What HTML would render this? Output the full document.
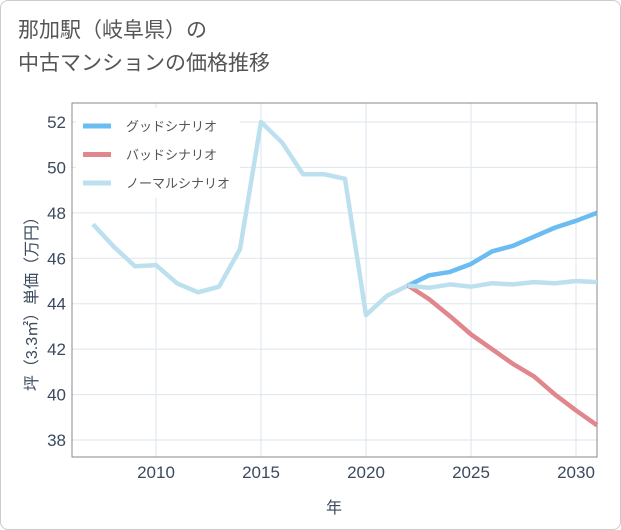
<!DOCTYPE html>
<html><head><meta charset="utf-8"><style>
body{margin:0;background:#fff;font-family:"Liberation Sans","Noto Sans CJK JP",sans-serif}
#card{position:absolute;left:0;top:0;width:619px;height:528px;border:1px solid #ccc;border-radius:8px;background:#fff}
#title{position:absolute;left:18px;top:14px;font-size:21px;color:#555;line-height:33px}
</style></head><body>
<div id="card"></div>
<div id="title">那加駅（岐阜県）の<br>中古マンションの価格推移</div>
<svg id="chart" width="621" height="530" style="position:absolute;left:0;top:0"></svg>
<script>
const years=[2007,2008,2009,2010,2011,2012,2013,2014,2015,2016,2017,2018,2019,2020,2021,2022,2023,2024,2025,2026,2027,2028,2029,2030,2031];
const normal=[47.5,46.5,45.65,45.7,44.9,44.5,44.75,46.4,52.0,51.1,49.7,49.7,49.5,43.5,44.35,44.8,44.7,44.85,44.75,44.9,44.85,44.95,44.9,45.0,44.95];
const futureYears=[2022,2023,2024,2025,2026,2027,2028,2029,2030,2031];
const good=[44.8,45.25,45.4,45.75,46.3,46.55,46.95,47.35,47.65,48.0];
const bad=[44.8,44.2,43.45,42.65,42.0,41.35,40.8,40.0,39.3,38.65];
const xTicks=[2010,2015,2020,2025,2030];
const yTicks=[38,40,42,44,46,48,50,52];
const NS="http://www.w3.org/2000/svg";
const svg=document.getElementById('chart');
const L=72,R=597,T=103,B=457;
const x=v=>156+(v-2010)*21;
const y=v=>440-(v-38)*22.714;
function mk(t,a){const e=document.createElementNS(NS,t);for(const k in a)e.setAttribute(k,a[k]);svg.appendChild(e);return e;}
xTicks.forEach(t=>{
 const g=mk('line',{x1:x(t),x2:x(t),y1:T,y2:B,stroke:'#dde5ec','stroke-width':1});
 
 
 const l=mk('text',{x:x(t),y:B+21,'text-anchor':'middle','font-size':17,fill:'#3b4a5e'});l.textContent=t;
 
 
});
yTicks.forEach(t=>{
 const g=mk('line',{x1:L,x2:R,y1:y(t),y2:y(t),stroke:'#dde5ec','stroke-width':1});
 
 
 const l=mk('text',{x:L-6,y:y(t)+6,'text-anchor':'end','font-size':17,fill:'#3b4a5e'});l.textContent=t;
 
 
});
const fr=mk('rect',{x:L,y:T,width:R-L,height:B-T,fill:'none',stroke:'#888','stroke-width':1});


const lb=mk('rect',{x:76,y:108,width:164,height:90,fill:'#fff'});


function line(xs,vs,c,n){const p=mk('polyline',{points:xs.map((v,i)=>x(v)+','+y(vs[i])).join(' '),fill:'none',stroke:c,'stroke-width':4.5,'stroke-linejoin':'round'});
 
 }
line(years,normal,'#bde0ef','normal-scenario-line');
line(futureYears,bad,'#e0868c','bad-scenario-line');
line(futureYears,good,'#6bbcf0','good-scenario-line');
line(futureYears.slice(0,2),normal.slice(15,17),'#bde0ef','normal-scenario-overlay');
[['グッドシナリオ','#6bbcf0'],['バッドシナリオ','#e0868c'],['ノーマルシナリオ','#bde0ef']].forEach((d,i)=>{
 const yy=126+i*28.5;
 const s=mk('line',{x1:83,x2:111,y1:yy,y2:yy,stroke:d[1],'stroke-width':5});
 
 
 const t=mk('text',{x:126,y:yy+5,'font-size':13,fill:'#555'});t.textContent=d[0];
 
 
});
const xt=mk('text',{x:334,y:513,'text-anchor':'middle','font-size':16,fill:'#3b4a5e'});xt.textContent='年';


const yt=mk('text',{x:0,y:0,'text-anchor':'middle','font-size':16,fill:'#3b4a5e',transform:'translate(37,300) rotate(-90)'});yt.textContent='坪（3.3㎡）単価（万円）';


</script>
</body></html>
